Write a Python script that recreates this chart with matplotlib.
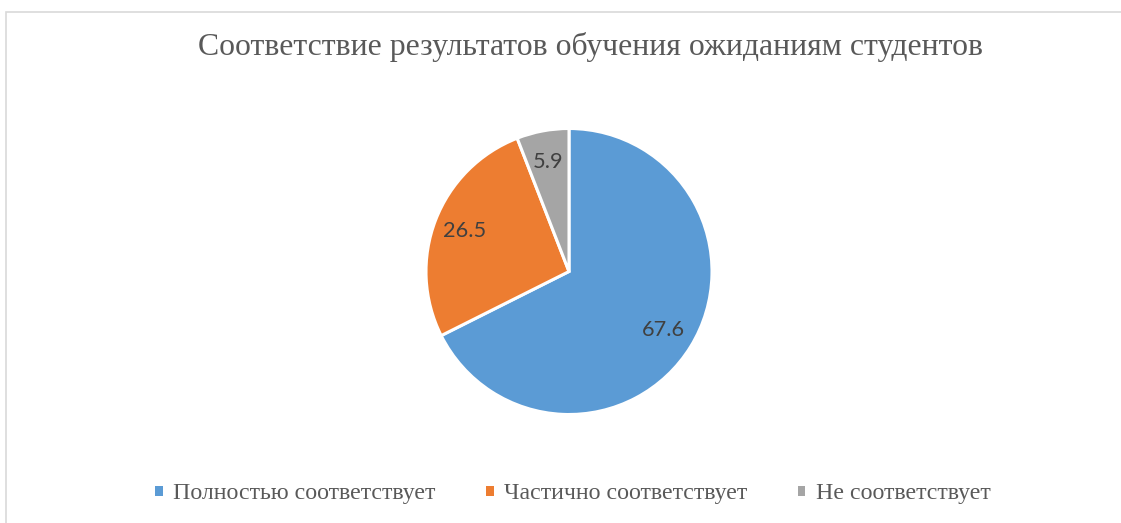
import matplotlib

matplotlib.use("Agg")
import matplotlib.pyplot as plt
from matplotlib.patches import Rectangle


categories = ["Полностью соответствует", "Частично соответствует", "Не соответствует"]
values = [67.6, 26.5, 5.9]
colors = ["#5B9BD5", "#ED7D31", "#A5A5A5"]
title = "Соответствие результатов обучения ожиданиям студентов"

W, H = 1121, 523
fig = plt.figure(figsize=(W / 100, H / 100), dpi=100)

# pie centre and radius in pixels
cx, cy, r = 569, 523 - 271.5, 143
pad = 1.03
ax = fig.add_axes([(cx - r * pad) / W, (cy - r * pad) / H, 2 * r * pad / W, 2 * r * pad / H])
wedges, _, autotexts = ax.pie(
    values,
    colors=colors,
    startangle=90,
    counterclock=False,
    autopct=lambda p: f"{p:.1f}",
    pctdistance=0.78,
    wedgeprops=dict(edgecolor="white", linewidth=2.2),
    textprops=dict(color="#404040", fontsize=15.7, family=["Lato", "DejaVu Sans"]),
)
ax.set_xlim(-pad, pad)
ax.set_ylim(-pad, pad)

fig.text(591 / W, 1 - 55 / H, title, ha="center", va="baseline",
         fontsize=22.9, color="#595959", family=["Liberation Serif", "DejaVu Serif"])

leg = fig.legend(wedges, categories, loc="center", bbox_to_anchor=(573 / W, 1 - 494 / H),
                 ncol=3, frameon=False, handlelength=0.32, handleheight=0.32,
                 handletextpad=0.45, columnspacing=2.1,
                 prop=dict(family=["Liberation Serif", "DejaVu Serif"], size=17.2),
                 labelcolor="#595959")
for p in leg.get_patches():
    p.set_linewidth(0)

fig.add_artist(Rectangle((6 / W, -0.1), 1.2, (H - 12) / H + 0.1, transform=fig.transFigure,
                         fill=False, edgecolor="#D9D9D9", linewidth=1.2))

fig.savefig("out.png", dpi=100, facecolor="white")
